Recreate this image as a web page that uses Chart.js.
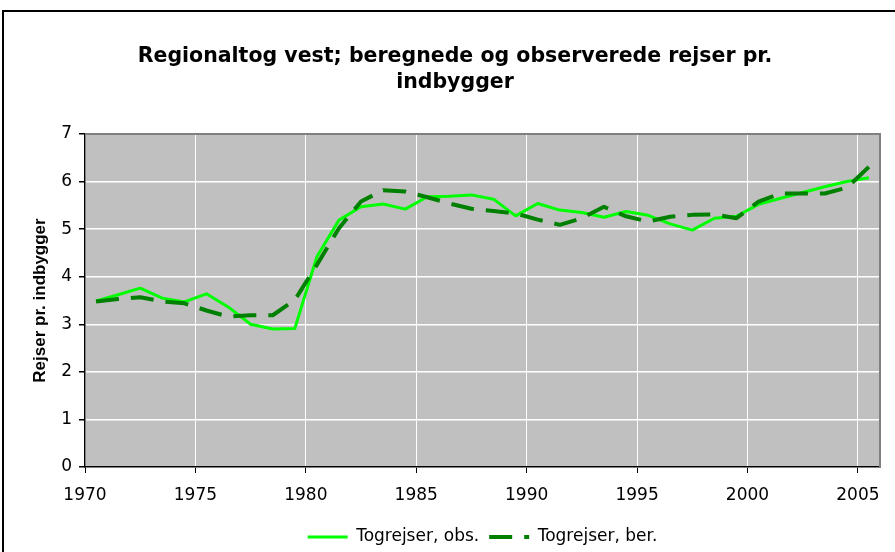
<!DOCTYPE html>
<html lang="da">
<head>
<meta charset="UTF-8">
<title>Regionaltog vest</title>
<style>
    * { margin: 0; padding: 0; }
    body { background: #fff; width: 895px; height: 552px; overflow: hidden; position: relative; }
    /* sort ramme rundt om diagrammet, som i Excel */
    .ramme { position: absolute; left: 2px; top: 10px; width: 1000px; height: 1000px; border: 2px solid #000; }
    #graf { position: absolute; left: 0; top: 0; }
</style>
</head>
<body>
<div class="ramme"></div>
<canvas id="graf" width="895" height="552"></canvas>

<script src="https://cdn.jsdelivr.net/npm/chart.js"></script>
<script>
// midt i hvert aar
const aar = [1970.5, 1971.5, 1972.5, 1973.5, 1974.5, 1975.5, 1976.5, 1977.5, 1978.5, 1979.5,
             1980.5, 1981.5, 1982.5, 1983.5, 1984.5, 1985.5, 1986.5, 1987.5, 1988.5, 1989.5,
             1990.5, 1991.5, 1992.5, 1993.5, 1994.5, 1995.5, 1996.5, 1997.5, 1998.5, 1999.5,
             2000.5, 2001.5, 2002.5, 2003.5, 2004.5, 2005.5];

// observerede rejser pr. indbygger
const togObs = [3.49, 3.62, 3.76, 3.55, 3.47, 3.64, 3.36, 3.00, 2.90, 2.91,
                4.42, 5.19, 5.47, 5.53, 5.42, 5.68, 5.69, 5.72, 5.63, 5.28,
                5.54, 5.40, 5.35, 5.25, 5.37, 5.29, 5.11, 4.98, 5.23, 5.27,
                5.52, 5.65, 5.77, 5.89, 6.00, 6.08];

// beregnede rejser pr. indbygger
const togBer = [3.48, 3.53, 3.57, 3.48, 3.44, 3.29, 3.16, 3.19, 3.19, 3.51,
                4.25, 5.02, 5.58, 5.82, 5.79, 5.67, 5.54, 5.43, 5.38, 5.33,
                5.20, 5.09, 5.23, 5.47, 5.27, 5.16, 5.26, 5.30, 5.31, 5.23,
                5.58, 5.75, 5.75, 5.75, 5.87, 6.31];

// aksemarkeringer paa x-aksen (aksen gaar til 2006)
const xTicks = [1970, 1975, 1980, 1985, 1990, 1995, 2000, 2005];

const titel = ['Regionaltog vest; beregnede og observerede rejser pr.', 'indbygger'];
const yTitel = 'Rejser pr. indbygger';

Chart.defaults.font.family = 'DejaVu Sans';
Chart.defaults.color = '#000';

// graa plotflade + graa kant foroven og til hoejre
const plotBaggrund = {
    id: 'plotBaggrund',
    beforeDraw(chart) {
        const { ctx, chartArea: a } = chart;
        ctx.save();
        ctx.fillStyle = '#c0c0c0';
        ctx.fillRect(a.left, a.top, a.right - a.left, a.bottom - a.top);
        ctx.restore();
    },
    beforeDatasetsDraw(chart) {
        const { ctx, chartArea: a } = chart;
        ctx.save();
        ctx.strokeStyle = '#808080';
        ctx.lineWidth = 2;
        ctx.beginPath();
        ctx.moveTo(a.left, a.top);
        ctx.lineTo(a.right, a.top);
        ctx.lineTo(a.right, a.bottom);
        ctx.stroke();
        ctx.restore();
    }
};

const punkter = (ys) => ys.map((y, i) => ({ x: aar[i], y: y }));

// legenden skal vise stregen som den er tegnet (stiplet)
function legendeLinjer(chart) {
    const items = Chart.defaults.plugins.legend.labels.generateLabels(chart);
    items.forEach(it => {
        const ds = chart.data.datasets[it.datasetIndex];
        it.strokeStyle = ds.borderColor;
        it.lineWidth = ds.borderWidth;
        it.lineDash = ds.borderDash || [];
    });
    return items.sort((a, b) => a.datasetIndex - b.datasetIndex);
}

new Chart(document.getElementById('graf'), {
    type: 'line',
    data: {
        datasets: [
            {
                label: 'Togrejser, obs.',
                data: punkter(togObs),
                borderColor: '#00ff00',
                backgroundColor: '#00ff00',
                borderWidth: 3,
                pointRadius: 0,
                borderJoinStyle: 'round',
                order: 2
            },
            {
                label: 'Togrejser, ber.',
                data: punkter(togBer),
                borderColor: '#008000',
                backgroundColor: '#008000',
                borderWidth: 4,
                borderDash: [23, 12],
                pointRadius: 0,
                borderJoinStyle: 'round',
                order: 1
            }
        ]
    },
    options: {
        responsive: false,
        devicePixelRatio: 1,
        animation: false,
        layout: { padding: { left: 30, right: 15, top: 0, bottom: -3.5 } },
        plugins: {
            tooltip: { enabled: false },
            title: {
                display: true,
                text: titel,
                font: { size: 20.5, weight: 'bold', lineHeight: 26 / 20.5 },
                padding: { top: 44, bottom: 38 }
            },
            legend: {
                position: 'bottom',
                fullSize: false,
                labels: {
                    usePointStyle: true,
                    pointStyle: 'line',
                    pointStyleWidth: 40,
                    padding: 10,
                    font: { size: 17 },
                    generateLabels: legendeLinjer
                }
            }
        },
        scales: {
            x: {
                type: 'linear',
                min: 1970,
                max: 2006,
                afterBuildTicks: (s) => { s.ticks = xTicks.map(v => ({ value: v })); },
                afterFit: (s) => { s.height = 51.5; },
                ticks: { padding: 12, maxRotation: 0, autoSkip: false, font: { size: 17 },
                         callback: (v) => String(v) },
                grid: { color: '#ffffff', lineWidth: 1, tickColor: '#000', tickLength: 6 },
                border: { color: '#000', width: 1.5 }
            },
            y: {
                min: 0,
                max: 7,
                afterFit: (s) => { s.width = 55; },
                ticks: { stepSize: 1, padding: 7, font: { size: 17 } },
                grid: { color: '#ffffff', lineWidth: 1.5, tickColor: '#000', tickLength: 6 },
                border: { color: '#000', width: 1.5 },
                title: {
                    display: true,
                    text: yTitel,
                    font: { family: 'Liberation Sans', size: 17, weight: 'bold' },
                    padding: { top: 0, bottom: 0 }
                }
            }
        }
    },
    plugins: [plotBaggrund]
});
</script>
</body>
</html>
